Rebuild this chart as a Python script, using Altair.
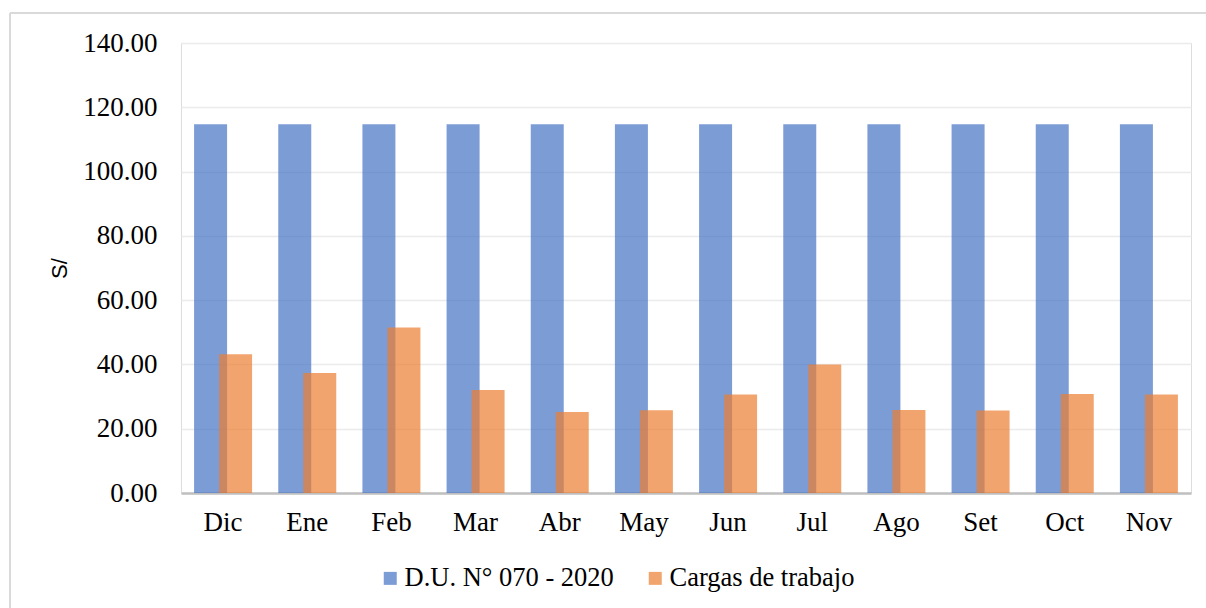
import altair as alt
import pandas as pd

# Monthly amounts (S/)
meses = ["Dic", "Ene", "Feb", "Mar", "Abr", "May", "Jun", "Jul", "Ago", "Set", "Oct", "Nov"]
du_070_2020 = [114.75, 114.75, 114.75, 114.75, 114.75, 114.75,
               114.75, 114.75, 114.75, 114.75, 114.75, 114.75]
cargas_trabajo = [43.17, 37.36, 51.47, 32.07, 25.23, 25.75,
                  30.63, 39.96, 25.85, 25.65, 30.83, 30.63]

serie_a = "D.U. N° 070 - 2020"
serie_b = "Cargas de trabajo"

df = pd.DataFrame({
    "mes": meses * 2,
    "valor": du_070_2020 + cargas_trabajo,
    "serie": [serie_a] * len(meses) + [serie_b] * len(meses),
})

SERIF = "Liberation Serif"

x_enc = alt.X(
    "mes:N", sort=meses, title=None,
    scale=alt.Scale(paddingInner=0, paddingOuter=0),
    axis=alt.Axis(labelAngle=0, labelFont=SERIF, labelFontSize=27, labelColor="#000000",
                  labelPadding=16, ticks=False, domain=True, domainColor="#BFBFBF",
                  domainWidth=2.5, grid=False),
)
y_enc = alt.Y(
    "valor:Q", title="S/",
    scale=alt.Scale(domain=[0, 140], nice=False),
    axis=alt.Axis(values=[0, 20, 40, 60, 80, 100, 120, 140], format=".2f",
                  labelFont=SERIF, labelFontSize=27, labelColor="#000000",
                  labelPadding=24, ticks=False, domain=False,
                  grid=True, gridColor="#EBEBEB", gridWidth=1.5,
                  titleFont="Liberation Sans", titleFontSize=22, titleFontWeight="normal",
                  titleColor="#000000", titleAngle=270, titleX=-122, titleY=225,
                  titleAlign="center", titleBaseline="middle"),
)
color_enc = alt.Color(
    "serie:N", title=None,
    scale=alt.Scale(domain=[serie_a, serie_b], range=["#4472C4", "#ED7D31"]),
    legend=alt.Legend(orient="none", direction="horizontal", legendX=196, legendY=522,
                      symbolType="square", symbolSize=169, symbolOpacity=0.7,
                      symbolStrokeWidth=0, labelFont=SERIF, labelFontSize=26.5,
                      labelColor="#000000", labelOffset=1, labelLimit=0, columnPadding=28),
)

base = alt.Chart(df).encode(x=x_enc, y=y_enc, color=color_enc)

barras_a = base.transform_filter(alt.datum.serie == serie_a).mark_bar(
    width=33, xOffset=-12.5, opacity=0.7)
barras_b = base.transform_filter(alt.datum.serie == serie_b).mark_bar(
    width=33, xOffset=12.5, opacity=0.7)

# light outer frame of the chart area
marco_izq = alt.Chart(df).mark_rule(color="#D9D9D9", strokeWidth=1.5).encode(
    x=alt.value(-171), y=alt.value(-30), y2=alt.value(600))
marco_sup = alt.Chart(df).mark_rule(color="#D9D9D9", strokeWidth=1.5).encode(
    x=alt.value(-171), x2=alt.value(1100), y=alt.value(-30))

chart = alt.layer(marco_izq, marco_sup, barras_a, barras_b).properties(
    width=1010, height=450,
    autosize=alt.AutoSizeParams(type="none"),
    padding={"left": 181, "top": 43, "right": 15, "bottom": 115},
).configure_view(stroke=None).configure(background="#FFFFFF")

chart.save("out.html", embed_options={"renderer": "svg", "actions": False})
